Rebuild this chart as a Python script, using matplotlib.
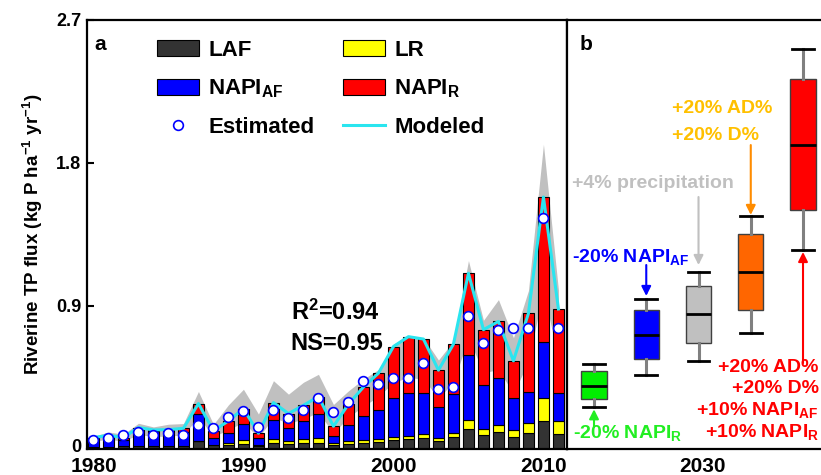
import numpy as np
import matplotlib
matplotlib.use('Agg')
import matplotlib.pyplot as plt
import matplotlib.transforms as mtransforms
from matplotlib.patches import Patch
from matplotlib.lines import Line2D

plt.rcParams['font.family'] = ['Liberation Sans', 'DejaVu Sans']
plt.rcParams['font.weight'] = 'bold'
plt.rcParams['axes.labelweight'] = 'bold'
plt.rcParams['mathtext.fontset'] = 'custom'
plt.rcParams['mathtext.rm'] = 'Liberation Sans:bold'
plt.rcParams['mathtext.bf'] = 'Liberation Sans:bold'
plt.rcParams['mathtext.default'] = 'bf'

# panel a data (kg P / ha / yr)
years = list(range(1980, 2012))
laf = [0.010, 0.015, 0.018, 0.020, 0.018, 0.018, 0.018, 0.050, 0.025, 0.027,
       0.029, 0.017, 0.040, 0.034, 0.040, 0.040, 0.027, 0.030, 0.036, 0.044,
       0.055, 0.061, 0.067, 0.050, 0.076, 0.128, 0.088, 0.107, 0.076, 0.099,
       0.177, 0.097]
lr = [0.000, 0.000, 0.000, 0.000, 0.000, 0.000, 0.000, 0.000, 0.002, 0.013,
      0.027, 0.006, 0.021, 0.017, 0.021, 0.027, 0.011, 0.021, 0.019, 0.017,
      0.021, 0.021, 0.030, 0.021, 0.027, 0.053, 0.040, 0.043, 0.044, 0.067,
      0.143, 0.080]
napi_af = [0.062, 0.066, 0.037, 0.100, 0.095, 0.100, 0.092, 0.173, 0.041, 0.063,
           0.103, 0.044, 0.120, 0.084, 0.116, 0.151, 0.042, 0.099, 0.152, 0.185,
           0.248, 0.273, 0.258, 0.194, 0.246, 0.410, 0.276, 0.296, 0.198, 0.194,
           0.351, 0.174]
napi_r = [0.000, 0.005, 0.017, 0.015, 0.007, 0.004, 0.020, 0.063, 0.046, 0.074,
          0.095, 0.032, 0.111, 0.088, 0.098, 0.112, 0.063, 0.132, 0.183, 0.231,
          0.321, 0.352, 0.337, 0.231, 0.311, 0.515, 0.347, 0.357, 0.237, 0.494,
          0.915, 0.530]
modeled = [0.072, 0.086, 0.072, 0.135, 0.120, 0.122, 0.130, 0.286, 0.114, 0.177,
           0.254, 0.099, 0.292, 0.223, 0.275, 0.330, 0.143, 0.282, 0.390, 0.477,
           0.645, 0.707, 0.692, 0.496, 0.660, 1.106, 0.751, 0.803, 0.555, 0.854,
           1.586, 0.881]
estimated = [0.055, 0.070, 0.090, 0.105, 0.090, 0.100, 0.090, 0.150, 0.135, 0.200,
             0.240, 0.139, 0.246, 0.194, 0.248, 0.324, 0.233, 0.297, 0.425, 0.410,
             0.450, 0.450, 0.540, 0.380, 0.393, 0.835, 0.665, 0.749, 0.761, 0.761,
             1.456, 0.761]
band_hi = [0.080, 0.107, 0.093, 0.162, 0.139, 0.156, 0.160, 0.362, 0.155, 0.278,
           0.376, 0.220, 0.430, 0.345, 0.420, 0.470, 0.280, 0.366, 0.440, 0.500,
           0.660, 0.710, 0.700, 0.560, 0.680, 1.186, 0.810, 0.940, 0.700, 0.997,
           1.918, 1.000]
band_lo = [0.050, 0.060, 0.050, 0.090, 0.080, 0.080, 0.090, 0.200, 0.080, 0.120,
           0.170, 0.070, 0.200, 0.160, 0.190, 0.230, 0.100, 0.200, 0.270, 0.330,
           0.420, 0.450, 0.440, 0.320, 0.420, 0.700, 0.480, 0.500, 0.350, 0.550,
           1.000, 0.560]

# panel b scenario boxes (whisker low, q1, median, q3, whisker high)
scen_pos = [1, 2, 3, 4, 5]
scen_low = [0.262, 0.468, 0.554, 0.730, 1.254]
scen_q1 = [0.313, 0.565, 0.667, 0.873, 1.502]
scen_med = [0.398, 0.716, 0.848, 1.114, 1.913]
scen_q3 = [0.491, 0.873, 1.026, 1.353, 2.329]
scen_high = [0.533, 0.946, 1.112, 1.466, 2.517]
scen_colors = ['#00ee00', '#0000ff', '#c0c0c0', '#ff6600', '#ff0000']

W, H = 821, 475
fig = plt.figure(figsize=(W / 100, H / 100), dpi=100)
ax = fig.add_axes([87 / W, 1 - 449 / H, (567 - 87) / W, 429 / H])
axb = fig.add_axes([567 / W, 1 - 449 / H, (821 - 567) / W, 429 / H])

yrs = np.array(years)
ax.fill_between(yrs, band_lo, band_hi, color='#c0c0c0', lw=0, zorder=1)
bottom = np.zeros(len(years))
for vals, col in [(laf, '#333333'), (lr, '#ffff00'), (napi_af, '#0000ff'), (napi_r, '#ff0000')]:
    ax.bar(yrs, vals, 0.78, bottom=bottom, color=col, edgecolor='black', lw=0.8, zorder=2)
    bottom += np.array(vals)
ax.plot(yrs, modeled, color='#2ae5ef', lw=2.2, zorder=3)
ax.plot(yrs, estimated, 'o', ms=7, mfc='white', mec='#0000ff', mew=1.2, zorder=4)

ax.set_xlim(1979.57, 2011.57)
ax.set_ylim(0, 2.7)
ax.set_yticks([0, 0.9, 1.8, 2.7])
ax.set_yticklabels(['0', '0.9', '1.8', '2.7'], fontsize=13)
ax.set_xticks([1980, 1990, 2000, 2010])
ax.set_xticklabels(['1980', '1990', '2000', '2010'], fontsize=15)
ax.tick_params(axis='y', direction='in', length=5, width=1.5, pad=4)
ax.tick_params(axis='x', length=0, pad=6)
for s in ax.spines.values():
    s.set_linewidth(1.6)
# lift the "0" label a touch so it clears "1980"
zero_lbl = ax.get_yticklabels()[0]
zero_lbl.set_transform(zero_lbl.get_transform() +
                       mtransforms.ScaledTranslation(0, 3 / 100, fig.dpi_scale_trans))

handles = [Patch(fc='#333333', ec='black', lw=0.8),
           Patch(fc='#0000ff', ec='black', lw=0.8),
           Line2D([], [], ls='none', marker='o', ms=7, mfc='white', mec='#0000ff', mew=1.2),
           Patch(fc='#ffff00', ec='black', lw=0.8),
           Patch(fc='#ff0000', ec='black', lw=0.8),
           Line2D([], [], color='#2ae5ef', lw=2.2)]
labels = ['LAF', r'NAPI$_{AF}$', 'Estimated', 'LR', r'NAPI$_{R}$', 'Modeled']
ax.legend(handles, labels, ncol=2, loc='upper left', bbox_to_anchor=(0.104, 1.0),
          frameon=False, fontsize=16, handlelength=1.9, handleheight=0.7,
          handletextpad=0.4, columnspacing=1.3, labelspacing=0.75)

ax.text(0.015, 0.965, 'a', transform=ax.transAxes, fontsize=15, va='top')
ax.text(0.424, 0.319, r'R$^{2}$=0.94', transform=ax.transAxes, fontsize=17, va='center')
ax.text(0.424, 0.247, 'NS=0.95', transform=ax.transAxes, fontsize=17, va='center')

ax.set_ylabel(r'Riverine TP flux (kg P ha$^{-1}$ yr$^{-1}$)', fontsize=13.5,
              fontweight='bold', labelpad=8)

# panel b
stats = []
for lo, q1, md, q3, hi in zip(scen_low, scen_q1, scen_med, scen_q3, scen_high):
    stats.append(dict(whislo=lo, q1=q1, med=md, q3=q3, whishi=hi, fliers=[]))
bp = axb.bxp(stats, positions=scen_pos, widths=0.48, patch_artist=True, showfliers=False,
             capwidths=0.42,
             boxprops=dict(edgecolor='#404040', lw=1.0),
             whiskerprops=dict(color='#808080', lw=2.2),
             capprops=dict(color='black', lw=2.0),
             medianprops=dict(color='black', lw=2.0))
for patch, c in zip(bp['boxes'], scen_colors):
    patch.set_facecolor(c)

axb.set_xlim(0.483, 0.483 + 254 / 52.25)
axb.set_ylim(0, 2.7)
axb.set_yticks([])
axb.set_xticks([3.067])
axb.set_xticklabels(['2030'], fontsize=15)
axb.tick_params(axis='x', length=0, pad=6)
axb.spines['right'].set_visible(False)
for s in axb.spines.values():
    s.set_linewidth(1.6)
axb.text(0.05, 0.965, 'b', transform=axb.transAxes, fontsize=15, va='top')


def arrow(x, y0, y1, c):
    axb.annotate('', xy=(x, y1), xytext=(x, y0),
                 arrowprops=dict(arrowstyle='-|>', color=c, lw=1.5, mutation_scale=14,
                                 shrinkA=0, shrinkB=0))


fs = 14
axb.text(0.598, 0.10, r'-20% NAPI$_{R}$', color='#22ee22', fontsize=fs, va='center')
arrow(1, 0.138, 0.25, '#22ee22')
axb.text(0.579, 1.208, r'-20% NAPI$_{AF}$', color='#0000ff', fontsize=fs, va='center')
arrow(2, 1.158, 0.963, '#0000ff')
axb.text(0.579, 1.674, '+4% precipitation', color='#c0c0c0', fontsize=fs, va='center')
arrow(3, 1.586, 1.158, '#c0c0c0')
axb.text(2.493, 2.140, '+20% AD%', color='#ffc000', fontsize=fs, va='center')
axb.text(2.493, 1.976, '+20% D%', color='#ffc000', fontsize=fs, va='center')
arrow(4, 1.913, 1.473, '#ff8c00')
red_lines = ['+20% AD%', '+20% D%', r'+10% NAPI$_{AF}$', r'+10% NAPI$_{R}$']
red_y = [0.510, 0.378, 0.245, 0.107]
for t, yv in zip(red_lines, red_y):
    axb.text(5.3, yv, t, color='#ff0000', fontsize=fs, va='center', ha='right')
arrow(5, 0.541, 1.24, '#ff0000')

fig.savefig('out.png', dpi=100)
